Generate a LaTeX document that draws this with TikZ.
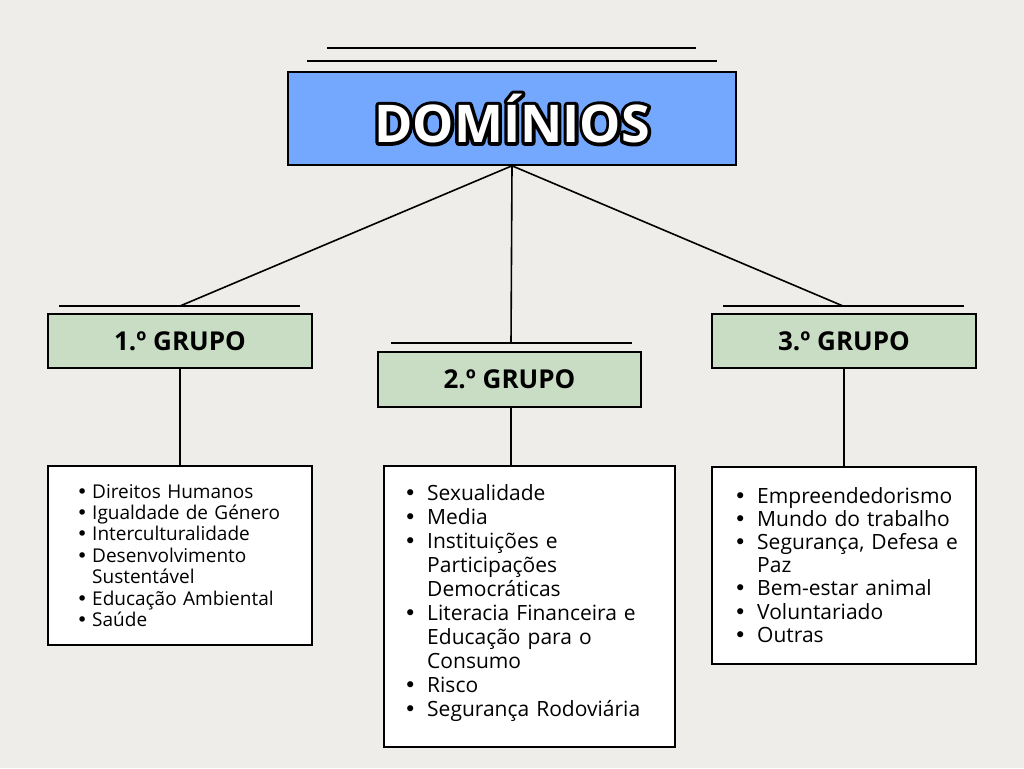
\documentclass[tikz,border=0pt]{standalone}
\usepackage{fontspec}
\setmainfont{Open Sans}
\newfontfamily\bulfont{DejaVu Sans}
\definecolor{paper}{HTML}{EEEDE9}
\definecolor{titleblue}{HTML}{74A8FF}
\definecolor{groupgreen}{HTML}{C8DDC4}
\newlength\bulw
\newcommand\itm[1]{\makebox[\bulw][l]{\bulfont •}#1\\}
\newcommand\cnt[1]{\hspace*{\bulw}#1\\}
\newcommand\outlined[1]{\makebox[0pt][l]{\special{pdf:literal direct 0 0 0 RG 1 Tr 7 w 1 j}#1\special{pdf:literal direct 0 Tr}}#1}

\begin{document}
\begin{tikzpicture}[x=1pt, y=-1pt,
  box/.style={draw=black, line width=1.6, inner sep=0},
  titlebox/.style={box, fill=titleblue, minimum width=448, minimum height=93},
  groupbox/.style={box, fill=groupgreen, minimum width=264, minimum height=54, font=\fontsize{26}{30}\selectfont\bfseries},
  listbox/.style={box, fill=white},
  titletext/.style={inner sep=0, text=white, font=\fontsize{52}{60}\selectfont\bfseries},
  listtext/.style={inner sep=0, anchor=base west, text width=262, align=left},
  rule/.style={line width=1.6},
  link/.style={line width=1.6}]
\fill[paper] (0,0) rectangle (1024,768);
\useasboundingbox (0,0) rectangle (1024,768);
\draw[rule] (327,48) -- (696,48);
\draw[rule] (307,61) -- (717,61);
\node[titlebox] (title) at (512,118.5) {};
\node[titletext] (titlelabel) at (title) {\outlined{DOMÍNIOS}};
\draw[rule] (59,306) -- (300,306);
\draw[rule] (391,343) -- (632,343);
\draw[rule] (723,306) -- (964,306);
\coordinate (c1) at (180,306);
\coordinate (c2) at (511,343);
\coordinate (c3) at (843,306);
\node[groupbox] (g1) at (180,341) {1.º GRUPO};
\node[groupbox, minimum width=263, minimum height=55] (g2) at (509.5,379.5) {2.º GRUPO};
\node[groupbox] (g3) at (844,341) {3.º GRUPO};
\node[listbox, minimum width=264, minimum height=179] (l1) at (180,555.5) {};
\node[listbox, minimum width=291, minimum height=281] (l2) at (529.5,606.5) {};
\node[listbox, minimum width=264, minimum height=197] (l3) at (844,565.5) {};
\draw[link] (title.south) -- (c1);
\draw[link] (title.south) -- (c2);
\draw[link] (title.south) -- (c3);
\draw[link] (g1.south) -- (l1.north);
\draw[link] (c2 |- g2.south) -- (c2 |- l2.north);
\draw[link] (g3.south) -- (l3.north);
\node[listtext, font=\fontsize{19}{21.4}\selectfont\setlength\bulw{15.6pt}] (t1) at (76.4,498) {\itm{Direitos Humanos}\itm{Igualdade de Género}\itm{Interculturalidade}\itm{Desenvolvimento}\cnt{Sustentável}\itm{Educação Ambiental}\itm{Saúde}};
\node[listtext, font=\fontsize{21}{24}\selectfont\setlength\bulw{23.2pt}] (t2) at (403.8,500) {\itm{Sexualidade}\itm{Media}\itm{Instituições e}\cnt{Participações}\cnt{Democráticas}\itm{Literacia Financeira e}\cnt{Educação para o}\cnt{Consumo}\itm{Risco}\itm{Segurança Rodoviária}};
\node[listtext, font=\fontsize{21}{23.2}\selectfont\setlength\bulw{23.2pt}] (t3) at (733.8,503) {\itm{Empreendedorismo}\itm{Mundo do trabalho}\itm{Segurança, Defesa e}\cnt{Paz}\itm{Bem-estar animal}\itm{Voluntariado}\itm{Outras}};
\end{tikzpicture}
\end{document}
